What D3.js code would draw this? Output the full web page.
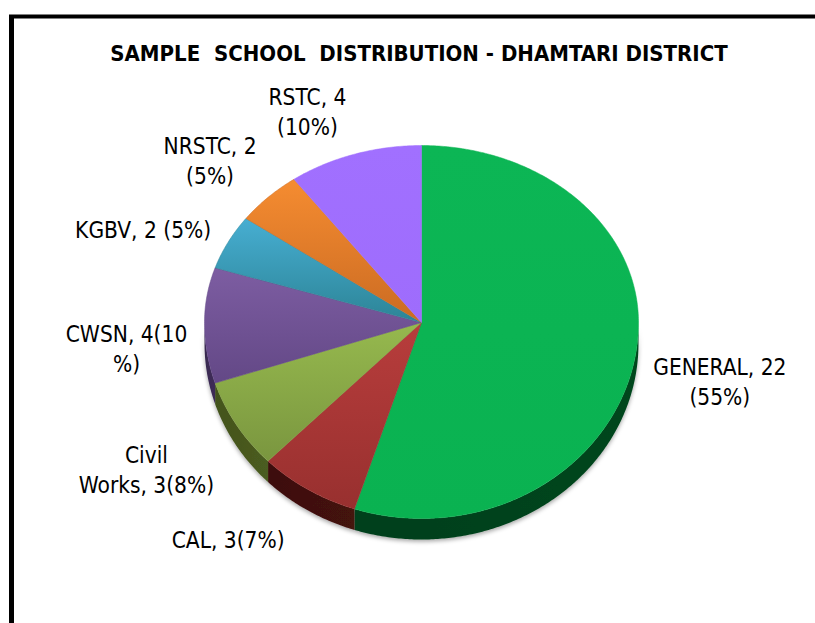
<!DOCTYPE html>
<html>
<head>
<meta charset="utf-8">
<script src="https://cdn.jsdelivr.net/npm/d3@7"></script>
<style>
  body { margin: 0; background: #fff; }
  text { font-family: "Liberation Sans Narrow", "Arial Narrow", "DejaVu Sans Condensed", sans-serif; fill: #000; }
</style>
</head>
<body>
<div id="chart"></div>
<script>
// data
var categories = ["GENERAL", "CAL", "Civil Works", "CWSN", "KGBV", "NRSTC", "RSTC"];
var schools = [22, 3, 3, 4, 2, 2, 4];
var labelLines = [
  ["GENERAL, 22", "(55%)"],
  ["CAL, 3(7%)"],
  ["Civil", "Works, 3(8%)"],
  ["CWSN, 4(10", "%)"],
  ["KGBV, 2 (5%)"],
  ["NRSTC, 2", "(5%)"],
  ["RSTC, 4", "(10%)"]
];
var title = "SAMPLE  SCHOOL  DISTRIBUTION - DHAMTARI DISTRICT";

// styles: [light top, dark bottom, side]
var sliceColors = [
  ["#0CB655", "#0AB251", "#00461F"],
  ["#B83D3C", "#98302F", "#44120F"],
  ["#96B94E", "#7A963F", "#4B5C20"],
  ["#7D5DA2", "#634886", "#3E2C58"],
  ["#47AED2", "#2C8496", "#1E5966"],
  ["#F58C31", "#CB6B22", "#7A4012"],
  ["#A170FF", "#9E6CFC", "#5E3F99"]
];

// layout
var W = 815, H = 623;
var CX = 421.5, CY = 322.5, RX = 217, RY_TOP = 177, RY_BOT = 196, DEPTH = 21;
var FONT = 22.5, LH = 30;
// label nudges from slice outer edge (mid angle)
var labelNudge = [[84, 29], [-80, 51], [-90, 45], [-78, 27], [-85, -12], [-58, -36], [-47, -42]];

var svg = d3.select("#chart").append("svg")
  .attr("width", W)
  .attr("height", H);

var defs = svg.append("defs");

var shadow = defs.append("filter")
  .attr("id", "shadow")
  .attr("x", "-10%").attr("y", "-10%")
  .attr("width", "120%").attr("height", "130%");
shadow.append("feDropShadow")
  .attr("dx", 0).attr("dy", 2)
  .attr("stdDeviation", 2)
  .attr("flood-color", "#000")
  .attr("flood-opacity", 0.35);

sliceColors.forEach(function(c, i) {
  var g = defs.append("linearGradient")
    .attr("id", "grad" + i)
    .attr("x1", 0).attr("y1", 0).attr("x2", 0).attr("y2", 1);
  g.append("stop").attr("offset", "0%").attr("stop-color", c[0]);
  g.append("stop").attr("offset", "100%").attr("stop-color", c[1]);
  var s = defs.append("linearGradient")
    .attr("id", "side" + i)
    .attr("x1", 0).attr("y1", 0).attr("x2", 1).attr("y2", 0);
  s.append("stop").attr("offset", "0%").attr("stop-color", d3.color(c[2]).darker(0.3));
  s.append("stop").attr("offset", "100%").attr("stop-color", c[2]);
});

// frame (runs off the right and bottom of the picture)
svg.append("path")
  .attr("d", "M11.5," + H + "V16.5")
  .attr("stroke", "#000")
  .attr("stroke-width", 5)
  .attr("fill", "none");
svg.append("path")
  .attr("d", "M9,16.5H" + W)
  .attr("stroke", "#000")
  .attr("stroke-width", 4)
  .attr("fill", "none");

svg.append("text")
  .attr("x", 419)
  .attr("y", 61)
  .attr("text-anchor", "middle")
  .style("font-size", "22px")
  .style("font-weight", "bold")
  .style("white-space", "pre")
  .text(title);

var pie = d3.pie().sort(null).value(function(d) { return d; });
var arcs = pie(schools);

// tilted disc projection, angle 0 at 12 o'clock, clockwise
function proj(a, dz) {
  var s = Math.sin(a), c = Math.cos(a);
  var ry = c > 0 ? RY_TOP : RY_BOT;
  return [CX + RX * s, CY - c * ry + (dz || 0)];
}

function rim(a0, a1, dz) {
  var n = Math.max(2, Math.ceil(Math.abs(a1 - a0) / 0.01));
  var pts = [];
  for (var k = 0; k <= n; k++) pts.push(proj(a0 + (a1 - a0) * k / n, dz));
  return pts;
}

var line = d3.line();

// front walls
var sides = svg.append("g").attr("filter", "url(#shadow)");
arcs.forEach(function(d, i) {
  var b0 = Math.max(d.startAngle, Math.PI / 2),
      b1 = Math.min(d.endAngle, 3 * Math.PI / 2);
  if (b0 >= b1) return;
  var pts = rim(b0, b1, 0).concat(rim(b1, b0, DEPTH));
  sides.append("path")
    .attr("d", line(pts) + "Z")
    .attr("fill", "url(#side" + i + ")");
});

// top faces
svg.append("g").selectAll("path")
  .data(arcs)
  .enter().append("path")
  .attr("d", function(d) {
    return line([[CX, CY]].concat(rim(d.startAngle, d.endAngle, 0))) + "Z";
  })
  .attr("fill", function(d, i) { return "url(#grad" + i + ")"; })
  .attr("stroke", function(d, i) { return sliceColors[i][1]; })
  .attr("stroke-width", 0.5);

// labels
var labels = svg.append("g").selectAll("text")
  .data(arcs)
  .enter().append("text")
  .attr("text-anchor", "middle")
  .style("font-size", FONT + "px")
  .attr("transform", function(d, i) {
    var mid = (d.startAngle + d.endAngle) / 2;
    var p = proj(mid, 0);
    return "translate(" + (p[0] + labelNudge[i][0]) + "," + (p[1] + labelNudge[i][1]) + ")";
  });

labels.each(function(d, i) {
  var lines = labelLines[i];
  var t = d3.select(this);
  lines.forEach(function(s, j) {
    t.append("tspan")
      .attr("x", 0)
      .attr("y", (j - (lines.length - 1) / 2) * LH + 0.35 * FONT)
      .text(s);
  });
});
</script>
</body>
</html>
